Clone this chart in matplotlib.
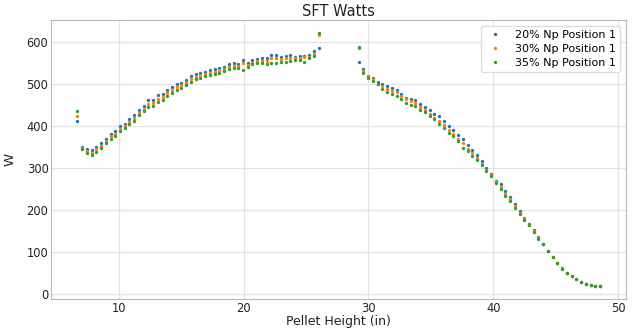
"""SFT Watts vs pellet height for three Np loadings."""

import matplotlib.pyplot as plt

# pellet height (in)
height = [
    6.70, 7.08, 7.46, 7.84, 8.21, 8.59, 8.97, 9.35, 9.73, 10.11,
    10.49, 10.87, 11.24, 11.62, 12.00, 12.38, 12.76, 13.14, 13.52, 13.90,
    14.27, 14.65, 15.03, 15.41, 15.79, 16.17, 16.55, 16.92, 17.30, 17.68,
    18.06, 18.44, 18.82, 19.20, 19.58, 19.95, 20.33, 20.71, 21.09, 21.47,
    21.85, 22.23, 22.61, 22.98, 23.36, 23.74, 24.12, 24.50, 24.88, 25.26,
    25.63, 26.01,
    29.22, 29.60, 29.98, 30.36, 30.73, 31.11, 31.49, 31.87, 32.25, 32.63,
    33.01, 33.39, 33.76, 34.14, 34.52, 34.90, 35.28, 35.66, 36.04, 36.42,
    36.79, 37.17, 37.55, 37.93, 38.31, 38.69, 39.07, 39.45, 39.82, 40.20,
    40.58, 40.96, 41.34, 41.72, 42.10, 42.48, 42.85, 43.23, 43.61, 43.99,
    44.37, 44.75, 45.13, 45.51, 45.88, 46.26, 46.64, 47.02, 47.40, 47.78,
    48.16, 48.53,
]

watts_20 = [
    412, 351, 345, 343, 351, 360, 371, 382, 389, 400,
    406, 417, 426, 440, 448, 462, 463, 474, 478, 486,
    494, 500, 504, 510, 520, 524, 528, 529, 534, 536,
    540, 542, 548, 550, 548, 557, 551, 557, 560, 562,
    563, 571, 571, 565, 567, 569, 566, 567, 567, 571,
    579, 586,
    554, 536, 521, 515, 505, 501, 496, 492, 486, 478,
    468, 464, 463, 454, 447, 438, 429, 425, 414, 402,
    392, 379, 369, 355, 344, 331, 317, 301, 287, 271,
    262, 246, 232, 216, 198, 182, 168, 153, 136, 120,
    104, 90, 76, 62, 51, 43, 36, 29, 25, 22,
    20, 19,
]

watts_30 = [
    424, 348, 341, 337, 345, 354, 365, 376, 383, 394,
    400, 411, 420, 433, 442, 454, 456, 466, 470, 479,
    487, 493, 498, 504, 512, 518, 522, 524, 528, 530,
    534, 537, 542, 544, 543, 552, 546, 552, 556, 556,
    556, 563, 562, 560, 563, 562, 562, 562, 565, 566,
    573, 617,
    586, 532, 519, 512, 502, 496, 488, 484, 482, 472,
    464, 460, 456, 446, 440, 429, 420, 413, 403, 391,
    381, 370, 361, 347, 336, 325, 311, 297, 284, 268,
    256, 240, 226, 210, 195, 179, 166, 150, 134, 119,
    103, 89, 75, 62, 51, 43, 36, 29, 25, 22,
    20, 19,
]

watts_35 = [
    436, 345, 336, 332, 340, 348, 360, 370, 377, 389,
    395, 405, 414, 427, 436, 446, 448, 458, 463, 472,
    480, 486, 492, 498, 506, 512, 516, 519, 522, 524,
    528, 532, 536, 538, 538, 534, 541, 548, 551, 550,
    549, 550, 552, 553, 554, 556, 557, 557, 554, 562,
    567, 623,
    590, 528, 516, 508, 500, 490, 482, 476, 472, 466,
    456, 452, 448, 440, 434, 425, 417, 406, 395, 385,
    377, 365, 349, 341, 329, 319, 308, 293, 282, 266,
    250, 234, 222, 206, 192, 176, 165, 148, 133, 119,
    103, 89, 75, 61, 51, 43, 36, 29, 25, 22,
    20, 19,
]

series = [
    ("20% Np Position 1", watts_20, "#1f77b4"),
    ("30% Np Position 1", watts_30, "#ff7f0e"),
    ("35% Np Position 1", watts_35, "#2ca02c"),
]

fig = plt.figure(figsize=(6.33, 3.28), dpi=100)
ax = fig.add_axes([0.081, 0.088, 0.908, 0.851])

for label, w, color in series:
    ax.plot(height, w, ".", color=color, markersize=2.8, label=label)

ax.set_title("SFT Watts", fontsize=10.5, color="#222222", pad=3)
ax.set_xlabel("Pellet Height (in)", fontsize=9, color="#222222", labelpad=0)
ax.set_ylabel("W", fontsize=9.5, color="#222222", labelpad=7)
ax.set_xticks([10, 20, 30, 40, 50])
ax.set_yticks([0, 100, 200, 300, 400, 500, 600])
ax.tick_params(labelsize=8.3, colors="#222222", length=0, pad=2)
ax.grid(True, color="#e3e3e3", lw=0.9)
ax.set_axisbelow(True)
for s in ax.spines.values():
    s.set_color("#b8b8b8")

leg = ax.legend(loc="upper right", fontsize=8.0, markerscale=1.0,
                handlelength=1.8, handletextpad=0.9, borderpad=0.4,
                labelspacing=0.35, framealpha=1.0, edgecolor="#dddddd")

plt.savefig("out.png", dpi=100)
plt.close()
